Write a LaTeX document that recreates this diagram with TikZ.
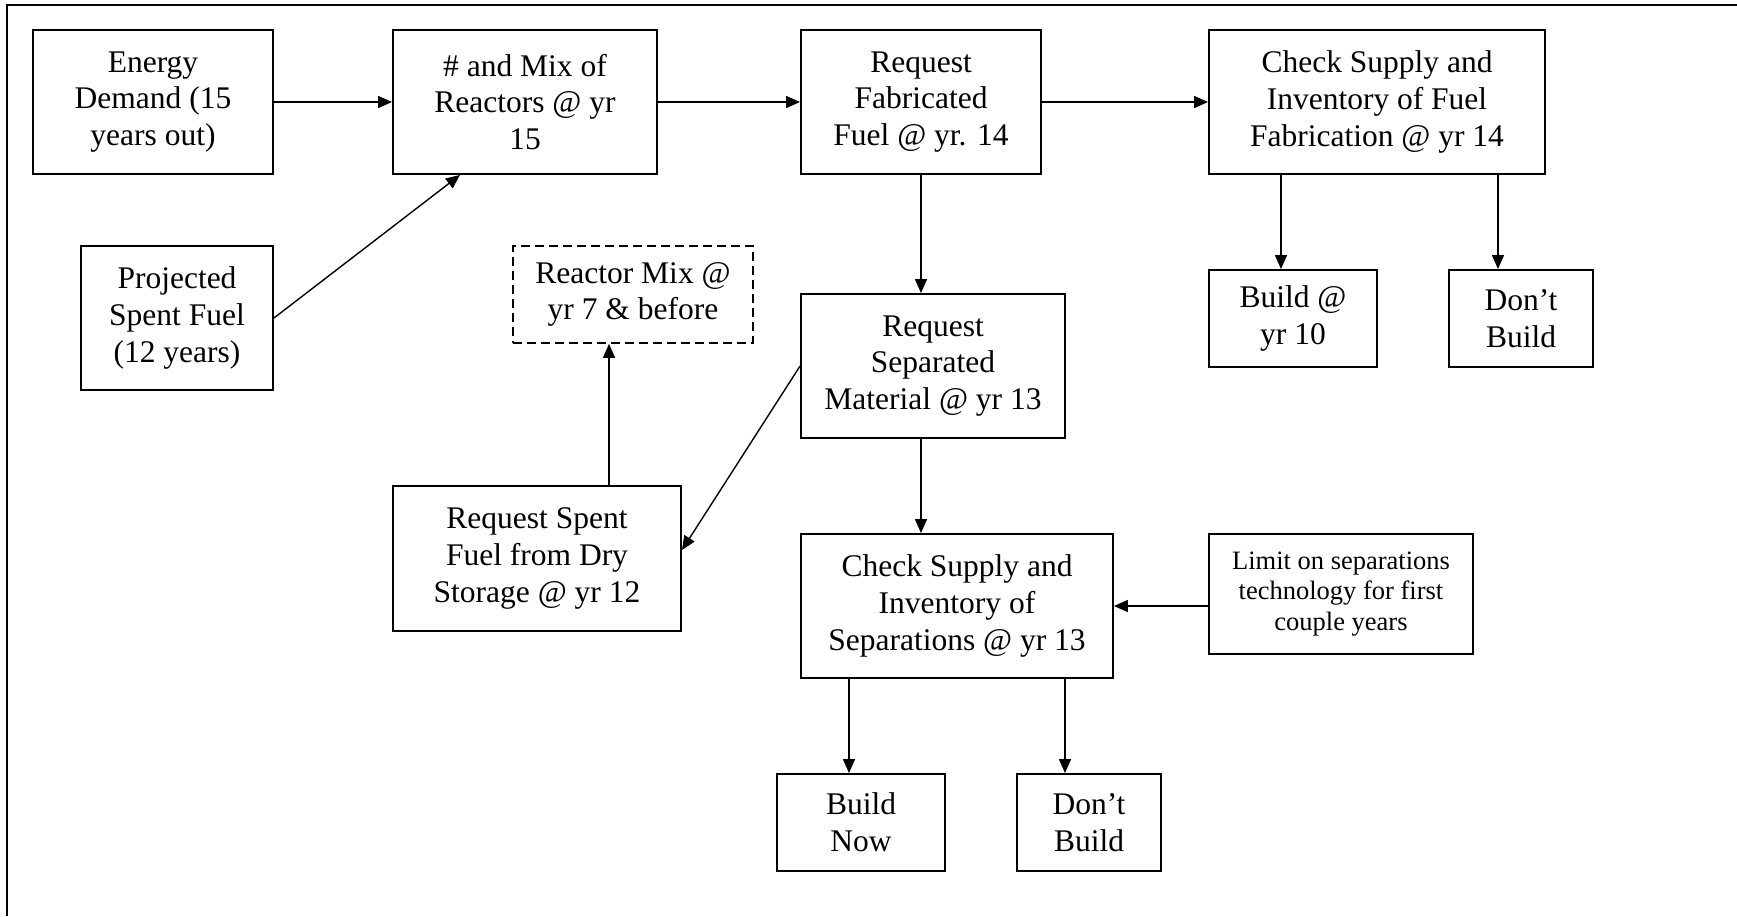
\documentclass[tikz,border=0pt]{standalone}
\usepackage{fontspec}
\setmainfont{Liberation Serif}
\usetikzlibrary{arrows.meta,calc}
\begin{document}
\begin{tikzpicture}[x=1pt,y=-1pt,
  box/.style={draw, line width=1.9pt, rectangle, inner sep=0pt, align=center,
    font=\fontsize{31.5}{36.6}\selectfont},
  smallbox/.style={box, font=\fontsize{26.5}{30.8}\selectfont},
  dashbox/.style={box, line width=1.6pt, dash pattern=on 9pt off 5pt},
  arr/.style={line width=1.4pt, -{Triangle[length=14pt,width=12pt]}},
  frameline/.style={line width=2.3pt}]
\useasboundingbox (0,0) rectangle (1737,916);
\draw[frameline] (7,916) -- (7,5) -- (1737,5);

\node[box, minimum width=240pt, minimum height=144pt] (energy) at (153,102) {Energy\\Demand (15\\years out)};
\node[box, minimum width=264pt, minimum height=144pt] (mix) at (525,102) {\# and Mix of\\Reactors @ yr\\15};
\node[box, minimum width=240pt, minimum height=144pt] (reqfab) at (921,102) {Request\\Fabricated\\Fuel @ yr. 14};
\node[box, minimum width=336pt, minimum height=144pt] (checkfab) at (1377,102) {Check Supply and\\Inventory of Fuel\\Fabrication @ yr 14};
\node[box, minimum width=192pt, minimum height=144pt] (projected) at (177,318) {Projected\\Spent Fuel\\(12 years)};
\node[dashbox, minimum width=240pt, minimum height=97pt] (reactormix) at (633,294.5) {Reactor Mix @\\yr 7 \& before};
\node[box, minimum width=264pt, minimum height=144pt] (reqsep) at (933,366) {Request\\Separated\\Material @ yr 13};
\node[box, minimum width=168pt, minimum height=97pt] (build10) at (1293,318.5) {Build @\\yr 10};
\node[box, minimum width=144pt, minimum height=97pt] (dontbuild1) at (1521,318.5) {Don’t\\Build};
\node[box, minimum width=288pt, minimum height=145pt] (reqspent) at (537,558.5) {Request Spent\\Fuel from Dry\\Storage @ yr 12};
\node[box, minimum width=312pt, minimum height=144pt] (checksep) at (957,606) {Check Supply and\\Inventory of\\Separations @ yr 13};
\node[smallbox, minimum width=264pt, minimum height=120pt] (limit) at (1341,594) {Limit on separations\\technology for first\\couple years};
\node[box, minimum width=168pt, minimum height=97pt] (buildnow) at (861,822.5) {Build\\Now};
\node[box, minimum width=144pt, minimum height=97pt] (dontbuild2) at (1089,822.5) {Don’t\\Build};

\coordinate (rmx) at (609,0);
\coordinate (fabA) at (1281,0);
\coordinate (fabB) at (1498,0);
\coordinate (sepA) at (849,0);
\coordinate (sepB) at (1065,0);

\draw[arr] (energy.east) -- (mix.west);
\draw[arr] (mix.east) -- (reqfab.west);
\draw[arr] (reqfab.east) -- (checkfab.west);
\draw[arr] (projected.east) -- ([xshift=-65pt]mix.south);
\draw[arr] (reqfab.south) -- (reqsep.north -| reqfab.south);
\draw[arr] (checkfab.south -| fabA) -- (build10.north -| fabA);
\draw[arr] (checkfab.south -| fabB) -- (dontbuild1.north -| fabB);
\draw[arr] (reqsep.south -| reqfab.south) -- (checksep.north -| reqfab.south);
\draw[arr] (limit.west |- checksep.east) -- (checksep.east);
\draw[arr] (checksep.south -| sepA) -- (buildnow.north -| sepA);
\draw[arr] (checksep.south -| sepB) -- (dontbuild2.north -| sepB);
\draw[arr] (reqsep.west) -- ([yshift=8.5pt]reqspent.east);
\draw[arr] (reqspent.north -| rmx) -- (reactormix.south -| rmx);
\end{tikzpicture}
\end{document}
